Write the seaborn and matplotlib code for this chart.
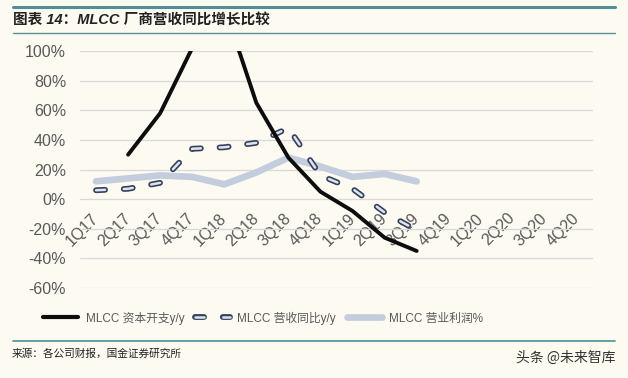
import numpy as np
import pandas as pd
import matplotlib
matplotlib.use("Agg")
import matplotlib.pyplot as plt
import seaborn as sns
from matplotlib.lines import Line2D
from matplotlib.legend_handler import HandlerTuple

quarters = ["1Q17", "2Q17", "3Q17", "4Q17", "1Q18", "2Q18", "3Q18", "4Q18",
            "1Q19", "2Q19", "3Q19", "4Q19", "1Q20", "2Q20", "3Q20", "4Q20"]
capex_yoy = [np.nan, 30, 58, 102, 130, 65, 28, 5, -8, -26, -35,
             np.nan, np.nan, np.nan, np.nan, np.nan]
revenue_yoy = [6, 7, 11, 34, 35, 38, 48, 16, 7, -9, -21,
               np.nan, np.nan, np.nan, np.nan, np.nan]
op_margin = [12, 14, 16, 15, 10, 18, 28, 22, 15, 17, 12,
             np.nan, np.nan, np.nan, np.nan, np.nan]
yticks = [-60, -40, -20, 0, 20, 40, 60, 80, 100]
legend_labels = ["MLCC 资本开支y/y", "MLCC 营收同比y/y", "MLCC 营业利润%"]
title = "图表 14：MLCC 厂商营收同比增长比较"
source = "来源：各公司财报，国金证券研究所"
watermark = "头条 @未来智库"

sns.set_theme(style="white")
plt.rcParams["font.family"] = ["Liberation Sans", "Noto Sans CJK SC", "DejaVu Sans"]
plt.rcParams["lines.scale_dashes"] = False

bg = "#fcfaf1"
teal = "#4f8e98"
grey_txt = "#595959"
black_c = "#0d0d0d"
dash_outer = "#34405c"
dash_inner = "#dfe5ef"
profit_c = "#c3cddd"

df = pd.DataFrame({"pos": np.arange(len(quarters)), "q": quarters,
                   "capex": capex_yoy, "rev": revenue_yoy, "prof": op_margin})

fig = plt.figure(figsize=(6.28, 3.78), dpi=100, facecolor=bg)
ax = fig.add_axes([80/628, 1-288/378, (593-80)/628, (288-51)/378])
ax.set_facecolor(bg)

sns.lineplot(data=df, x="pos", y="prof", ax=ax, color=profit_c, lw=4.8,
             solid_capstyle="round", zorder=2)
sns.lineplot(data=df, x="pos", y="rev", ax=ax, color=dash_outer, lw=4.2, zorder=3)
l_out = ax.lines[-1]
l_out.set_dashes((6.5, 13.5))
l_out.set_dash_capstyle("round")
sns.lineplot(data=df, x="pos", y="rev", ax=ax, color=dash_inner, lw=1.8, zorder=4)
l_in = ax.lines[-1]
l_in.set_dashes((6.5, 13.5))
l_in.set_dash_capstyle("round")
sns.lineplot(data=df, x="pos", y="capex", ax=ax, color=black_c, lw=2.8,
             solid_capstyle="round", zorder=5)

ax.set_xlim(-0.5, len(quarters) - 0.5)
ax.set_ylim(-60, 100)
ax.set_yticks(yticks)
ax.set_yticklabels([f"{v}%" for v in yticks], color=grey_txt, fontsize=11.5)
ax.yaxis.grid(True, color="#d9d9d9", lw=0.9)
ax.set_axisbelow(True)
ax.set_xlabel("")
ax.set_ylabel("")
for s in ["left", "right", "top"]:
    ax.spines[s].set_visible(False)
ax.spines["bottom"].set_position(("data", 0))
ax.spines["bottom"].set_color("none")
ax.set_xticks(np.arange(len(quarters)))
ax.set_xticklabels(quarters, rotation=45, ha="right", va="center",
                   rotation_mode="anchor", color=grey_txt, fontsize=11.5)
ax.tick_params(axis="x", length=0, pad=12)
ax.tick_params(axis="y", length=0, pad=10)

h1 = Line2D([], [], color=black_c, lw=3.0)
h2a = Line2D([], [], color=dash_outer, lw=4.2, dashes=(6.5, 13.5), dash_capstyle="round")
h2b = Line2D([], [], color=dash_inner, lw=1.8, dashes=(6.5, 13.5), dash_capstyle="round")
h3 = Line2D([], [], color=profit_c, lw=4.8)
leg = fig.legend([h1, (h2a, h2b), h3], legend_labels,
                 handler_map={tuple: HandlerTuple(ndivide=1)},
                 loc="center", bbox_to_anchor=(263/628, 1-318/378), ncol=3,
                 frameon=False, fontsize=8.5, handlelength=3.0, columnspacing=0.9,
                 handletextpad=0.6)
for t in leg.get_texts():
    t.set_color(grey_txt)

fig.add_artist(Line2D([13/628, 615/628], [1-7/378, 1-7/378], color=teal, lw=2.2))
fig.add_artist(Line2D([13/628, 615/628], [1-33/378, 1-33/378], color="#5f8f98", lw=1.0))
fig.add_artist(Line2D([13/628, 615/628], [1-341/378, 1-341/378], color=teal, lw=1.2))
fig.text(13/628, 1-20/378, title, fontsize=10.5, fontweight="bold", fontstyle="italic",
         color="#222222", va="center", ha="left")
fig.text(12/628, 1-354/378, source, fontsize=7.7, color="#222222", va="center", ha="left",
         family=["Noto Sans CJK SC", "DejaVu Sans"])
fig.text(615/628, 1-358/378, watermark, fontsize=10, color="#333333", va="center", ha="right",
         family=["Noto Sans CJK SC", "DejaVu Sans"])

fig.savefig("out.png", dpi=100, facecolor=bg)
